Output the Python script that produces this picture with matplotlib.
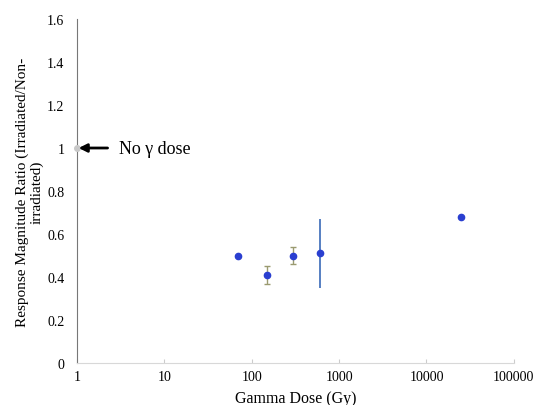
import matplotlib.pyplot as plt
from matplotlib.ticker import FixedLocator, FixedFormatter, NullLocator

plt.rcParams['font.family'] = ['Liberation Serif', 'DejaVu Serif']

# data
dose = [70, 150, 300, 600, 25000]
ratio = [0.50, 0.41, 0.50, 0.51, 0.68]
err = [0.0, 0.04, 0.04, 0.16, 0.0]

xticks = [1, 10, 100, 1000, 10000, 100000]
xlabels = ["1", "10", "100", "1000", "10000", "100000"]
yticks = [0, 0.2, 0.4, 0.6, 0.8, 1.0, 1.2, 1.4, 1.6]
ylabels = ["0", "0.2", "0.4", "0.6", "0.8", "1", "1.2", "1.4", "1.6"]

fig = plt.figure(figsize=(5.37, 4.06), dpi=100)
ax = fig.add_axes([0.143, 0.103, 0.814, 0.848])

# small error bars (greyish) and the big one (blue)
ax.errorbar(dose[:3], ratio[:3], yerr=err[:3], fmt='none', ecolor='#9a9a70',
            elinewidth=1, capsize=2)
ax.errorbar(dose[3:4], ratio[3:4], yerr=err[3:4], fmt='none', ecolor='#3a6ab8',
            elinewidth=1.2, capsize=0)
ax.plot(dose, ratio, 'o', color='#2a3fd0', markersize=4.5, zorder=3)
ax.plot([1], [1.0], 'o', color='#c8c8c8', markersize=4, zorder=3, clip_on=False)

ax.set_xscale('log')
ax.set_xlim(1, 100000)
ax.set_ylim(0, 1.6)
ax.xaxis.set_major_locator(FixedLocator(xticks))
ax.xaxis.set_major_formatter(FixedFormatter(xlabels))
ax.xaxis.set_minor_locator(NullLocator())
ax.set_yticks(yticks)
ax.set_yticklabels(ylabels)

for s in ['top', 'right']:
    ax.spines[s].set_visible(False)
ax.spines['left'].set_color('#777777')
ax.spines['bottom'].set_color('#d8d8d8')
ax.tick_params(axis='y', length=0, labelsize=10, pad=9)
ax.tick_params(axis='x', length=3, color='#cccccc', direction='in', labelsize=10, pad=5)

ax.set_xlabel("Gamma Dose (Gy)", fontsize=11.5, labelpad=5)
ax.set_ylabel("Response Magnitude Ratio (Irradiated/Non-\nirradiated)", fontsize=11,
              linespacing=1.1)
ax.yaxis.set_label_coords(-0.076, 0.5)

# arrow pointing at the no-dose point, text a bit to the right
ax.annotate("", xy=(1.05, 1.0), xytext=(2.25, 1.0),
            arrowprops=dict(arrowstyle='-|>', color='black', lw=2, mutation_scale=12,
                            shrinkA=0, shrinkB=0))
ax.text(3.0, 1.0, "No γ dose", fontsize=13, va='center', ha='left')

fig.savefig("out.png", dpi=100)
